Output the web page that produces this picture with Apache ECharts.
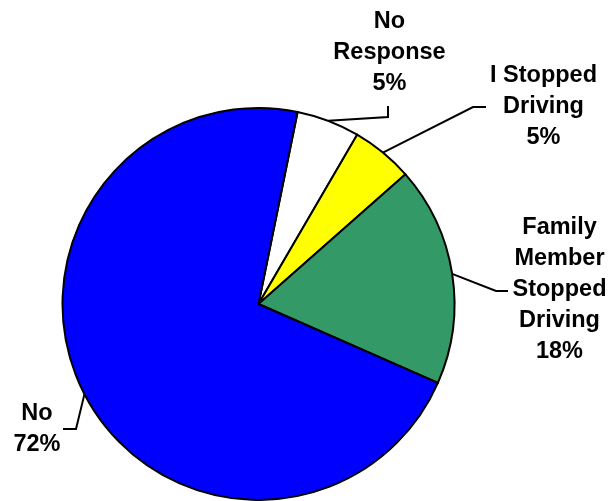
<!DOCTYPE html>
<html>
<head>
<meta charset="utf-8">
<script src="https://cdn.jsdelivr.net/npm/echarts@6/dist/echarts.min.js"></script>
<style>
html,body{margin:0;padding:0;background:#fff;}
#chart{width:610px;height:501px;}
</style>
</head>
<body>
<div id="chart"></div>
<script>
// Data
var categories = ['No\nResponse', 'I Stopped\nDriving', 'Family\nMember\nStopped\nDriving', 'No'];
var values = [5.2, 5.1, 18.1, 71.6];
var percentLabels = ['5%', '5%', '18%', '72%'];

// Styles / layout (kept separate from data)
var colors = ['#FFFFFF', '#FFFF00', '#339966', '#0000FF'];
var labelCenters = [[389.5, 52.5], [543.5, 107], [559.5, 290], [37, 429]];
var leaderBends = [
  [[388, 117], [388, 106]],
  [[473, 107], [486, 107]],
  [[496, 291], [508, 291]],
  [[76, 429], [63, 429]]
];

var chart = echarts.init(document.getElementById('chart'), null, {renderer: 'canvas'});

var data = categories.map(function (c, i) {
  return {name: c, value: values[i], itemStyle: {color: colors[i]}};
});

chart.setOption({
  backgroundColor: '#ffffff',
  animation: false,
  series: [{
    type: 'pie',
    center: [258.5, 304],
    radius: [0, 196],
    startAngle: 78.5,
    clockwise: true,
    avoidLabelOverlap: false,
    data: data,
    itemStyle: {borderColor: '#000000', borderWidth: 2},
    emphasis: {disabled: true},
    label: {
      show: true,
      position: 'outside',
      color: '#000000',
      fontFamily: 'Liberation Sans, Arial, sans-serif',
      fontWeight: 'bold',
      fontSize: 23.5,
      lineHeight: 31,
      align: 'center',
      overflow: 'none',
      formatter: function (p) { return p.name + '\n' + percentLabels[p.dataIndex]; }
    },
    labelLine: {
      show: true,
      length: 15,
      length2: 15,
      smooth: false,
      lineStyle: {color: '#000000', width: 2}
    },
    labelLayout: function (params) {
      var i = params.dataIndex;
      var pts = params.labelLinePoints;
      var start = pts && pts[0] ? pts[0] : leaderBends[i][0];
      return {
        x: labelCenters[i][0],
        y: labelCenters[i][1],
        align: 'center',
        verticalAlign: 'middle',
        labelLinePoints: [start, leaderBends[i][0], leaderBends[i][1]]
      };
    }
  }]
});
</script>
</body>
</html>
